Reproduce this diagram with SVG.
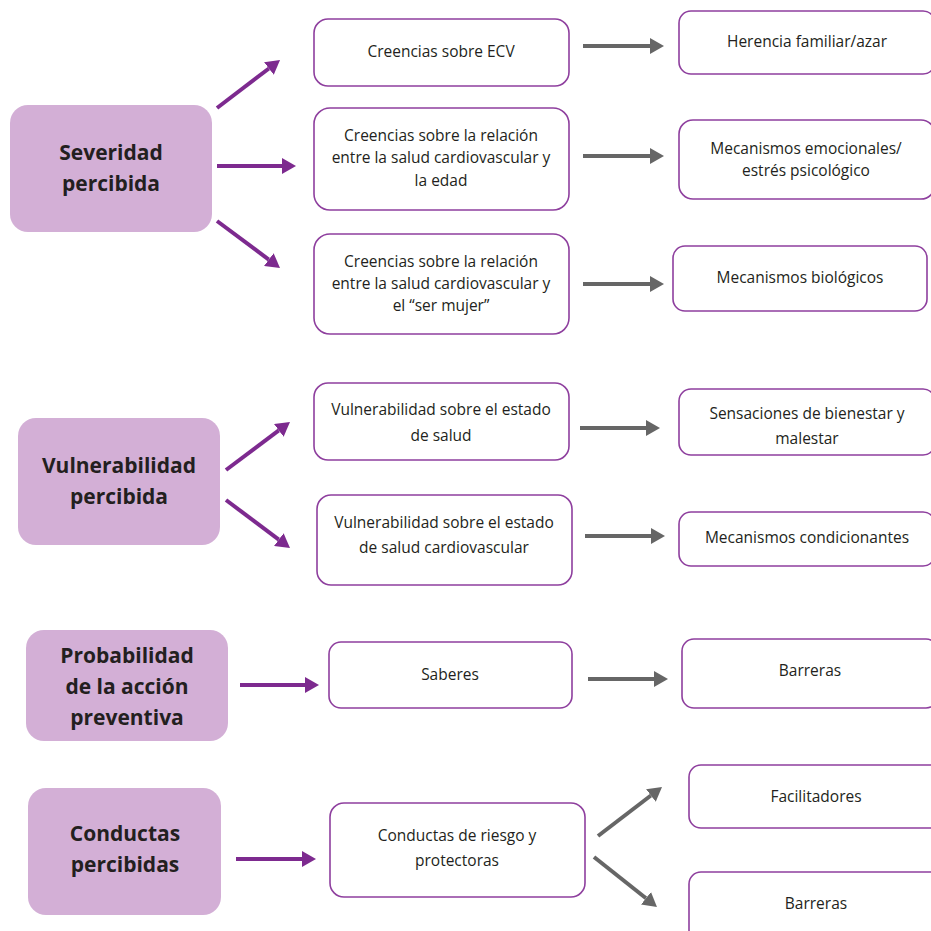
<svg xmlns="http://www.w3.org/2000/svg" width="931" height="931" viewBox="0 0 931 931">
<defs>
<style>
.main rect{fill:#d3afd6;}
.main text{font-family:"Open Sans","Liberation Sans",sans-serif;font-weight:bold;font-size:21px;fill:#231f20;text-anchor:middle;}
.box rect{fill:#fff;stroke:#8e3f9e;stroke-width:1.6;}
.box text{font-family:"Open Sans","Liberation Sans",sans-serif;font-size:15.5px;fill:#231f20;text-anchor:middle;}
.p{stroke:#7d2a8f;stroke-width:4;fill:none;marker-end:url(#ap);}
.g{stroke:#666;stroke-width:4;fill:none;marker-end:url(#ag);}
</style>
<marker id="ap" viewBox="0 0 14 16" refX="0" refY="8" markerWidth="14" markerHeight="16" markerUnits="userSpaceOnUse" orient="auto"><path d="M0,0 L14,8 L0,16 z" fill="#7d2a8f"/></marker>
<marker id="ag" viewBox="0 0 14 16" refX="0" refY="8" markerWidth="14" markerHeight="16" markerUnits="userSpaceOnUse" orient="auto"><path d="M0,0 L14,8 L0,16 z" fill="#666"/></marker>
</defs>
<rect width="931" height="931" fill="#fff"/>
<g id="connectors">
<line class="p" x1="217" y1="108" x2="268.9" y2="68.5"/>
<line class="p" x1="217" y1="166" x2="282" y2="166"/>
<line class="p" x1="217" y1="221" x2="268.8" y2="259.6"/>
<line class="p" x1="226" y1="470" x2="278.8" y2="430.4"/>
<line class="p" x1="226" y1="500" x2="278.8" y2="539.6"/>
<line class="p" x1="240" y1="685" x2="305" y2="685"/>
<line class="p" x1="236" y1="859" x2="302" y2="859"/>
<line class="g" x1="583" y1="46" x2="650" y2="46"/>
<line class="g" x1="583" y1="156" x2="650" y2="156"/>
<line class="g" x1="583" y1="284" x2="650" y2="284"/>
<line class="g" x1="580" y1="428" x2="646" y2="428"/>
<line class="g" x1="585" y1="536" x2="651" y2="536"/>
<line class="g" x1="588" y1="679" x2="654" y2="679"/>
<line class="g" x1="598" y1="836" x2="650.9" y2="795.5"/>
<line class="g" x1="594" y1="857" x2="646" y2="898.3"/>
</g>
<g id="severidad" class="main"><rect x="10" y="105" width="202" height="127" rx="18"/><text x="111" y="160">Severidad</text><text x="111" y="191">percibida</text></g>
<g id="vulnerabilidad" class="main"><rect x="18" y="418" width="202" height="127" rx="18"/><text x="119" y="473">Vulnerabilidad</text><text x="119" y="504">percibida</text></g>
<g id="probabilidad" class="main"><rect x="26" y="630" width="202" height="111" rx="18"/><text x="127" y="663">Probabilidad</text><text x="127" y="694">de la acción</text><text x="127" y="725">preventiva</text></g>
<g id="conductas" class="main"><rect x="28" y="788" width="193" height="127" rx="18"/><text x="125" y="841">Conductas</text><text x="125" y="872">percibidas</text></g>
<g id="creencias-ecv" class="box"><rect x="314" y="19" width="255" height="67" rx="14"/><text x="441" y="57">Creencias sobre ECV</text></g>
<g id="creencias-edad" class="box"><rect x="314" y="108" width="255" height="102" rx="16"/><text x="441" y="141">Creencias sobre la relación</text><text x="441" y="163">entre la salud cardiovascular y</text><text x="441" y="186">la edad</text></g>
<g id="creencias-mujer" class="box"><rect x="314" y="234" width="255" height="100" rx="16"/><text x="441" y="267">Creencias sobre la relación</text><text x="441" y="289">entre la salud cardiovascular y</text><text x="441" y="311">el “ser mujer”</text></g>
<g id="vuln-salud" class="box"><rect x="314" y="383" width="255" height="77" rx="14"/><text x="441" y="415">Vulnerabilidad sobre el estado</text><text x="441" y="441">de salud</text></g>
<g id="vuln-cardio" class="box"><rect x="317" y="495" width="255" height="90" rx="14"/><text x="444" y="528">Vulnerabilidad sobre el estado</text><text x="444" y="553">de salud cardiovascular</text></g>
<g id="saberes" class="box"><rect x="329" y="642" width="243" height="66" rx="12"/><text x="450" y="680">Saberes</text></g>
<g id="conductas-riesgo" class="box"><rect x="330" y="803" width="255" height="94" rx="14"/><text x="457" y="841">Conductas de riesgo y</text><text x="457" y="866">protectoras</text></g>
<g id="herencia" class="box"><rect x="679" y="11" width="256" height="63" rx="12"/><text x="807" y="47">Herencia familiar/azar</text></g>
<g id="emocionales" class="box"><rect x="679" y="120" width="256" height="79" rx="14"/><text x="806" y="154">Mecanismos emocionales/</text><text x="806" y="176">estrés psicológico</text></g>
<g id="biologicos" class="box"><rect x="673" y="246" width="254" height="65" rx="12"/><text x="800" y="283">Mecanismos biológicos</text></g>
<g id="sensaciones" class="box"><rect x="679" y="389" width="256" height="66" rx="12"/><text x="807" y="419">Sensaciones de bienestar y</text><text x="807" y="444">malestar</text></g>
<g id="condicionantes" class="box"><rect x="679" y="512" width="256" height="54" rx="12"/><text x="807" y="543">Mecanismos condicionantes</text></g>
<g id="barreras1" class="box"><rect x="682" y="639" width="256" height="69" rx="12"/><text x="810" y="676">Barreras</text></g>
<g id="facilitadores" class="box"><rect x="689" y="765" width="256" height="63" rx="12"/><text x="816" y="802">Facilitadores</text></g>
<g id="barreras2" class="box"><rect x="689" y="872" width="256" height="70" rx="12"/><text x="816" y="909">Barreras</text></g>
</svg>
